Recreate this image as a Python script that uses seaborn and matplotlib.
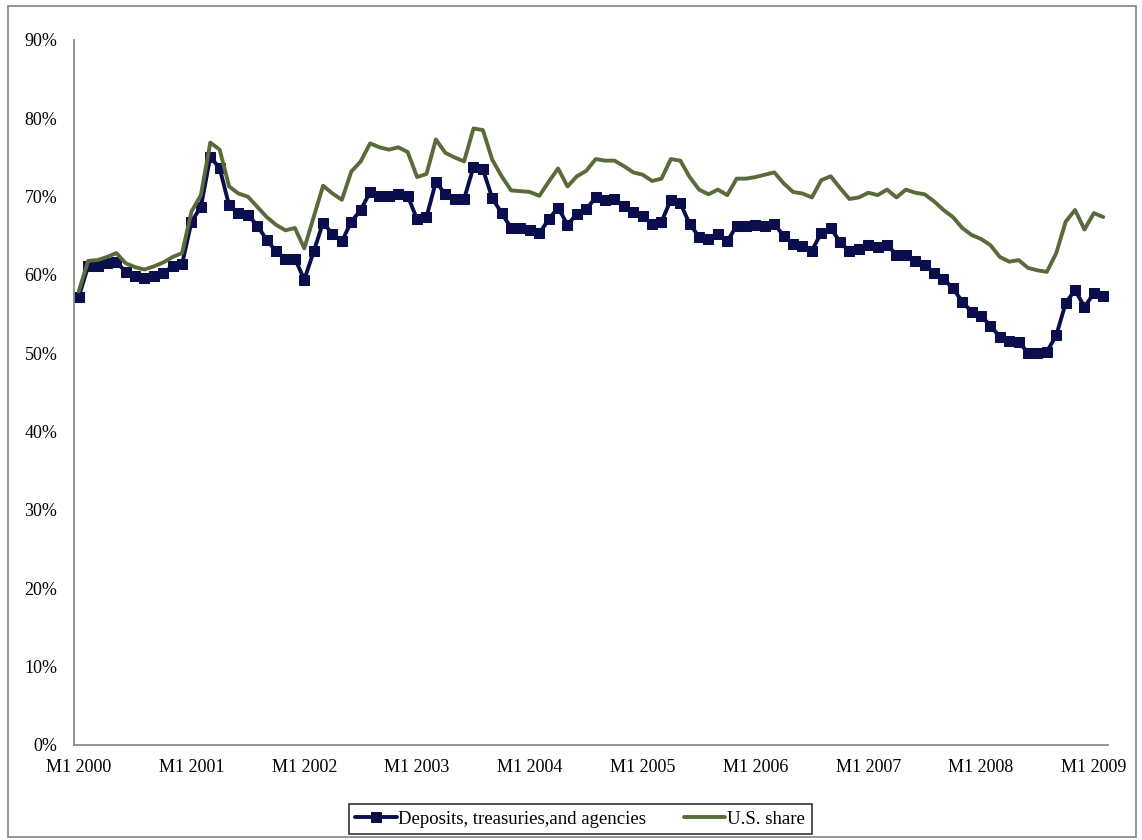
import numpy as np
import pandas as pd
import matplotlib
matplotlib.use("Agg")
import matplotlib.pyplot as plt
import seaborn as sns
from matplotlib.patches import Rectangle
from matplotlib.ticker import FuncFormatter

sns.set_style("white")
plt.rcParams['font.family'] = ['Liberation Serif', 'DejaVu Serif']
plt.rcParams['text.color'] = 'black'
plt.rcParams['xtick.color'] = 'black'
plt.rcParams['ytick.color'] = 'black'

# monthly data, Jan 2000 - Feb 2009 (share, %)
deposits = [
    57.2, 61.1, 61.1, 61.5, 61.7, 60.4, 59.9, 59.6, 59.9, 60.3, 61.1, 61.4,
    66.8, 68.7, 75.1, 73.6, 68.9, 67.9, 67.7, 66.3, 64.5, 63.0, 62.1, 62.1,
    59.4, 63.0, 66.7, 65.2, 64.3, 66.8, 68.3, 70.6, 70.1, 70.1, 70.4, 70.1,
    67.1, 67.4, 71.9, 70.3, 69.7, 69.7, 73.8, 73.5, 69.8, 67.9, 66.0, 66.0,
    65.8, 65.3, 67.1, 68.6, 66.4, 67.8, 68.4, 69.9, 69.6, 69.7, 68.8, 68.0,
    67.5, 66.5, 66.8, 69.6, 69.2, 66.5, 64.9, 64.6, 65.2, 64.3, 66.3, 66.3,
    66.4, 66.2, 66.5, 65.0, 64.0, 63.7, 63.1, 65.4, 66.0, 64.2, 63.0, 63.3,
    63.8, 63.6, 63.8, 62.6, 62.5, 61.8, 61.3, 60.3, 59.5, 58.3, 56.6, 55.3,
    54.8, 53.5, 52.1, 51.6, 51.4, 50.1, 50.0, 50.2, 52.3, 56.4, 58.1, 55.9,
    57.7, 57.3,
]
us_share = [
    57.9, 61.8, 61.9, 62.3, 62.8, 61.5, 61.0, 60.7, 61.1, 61.6, 62.3, 62.8,
    68.1, 70.2, 76.9, 76.0, 71.3, 70.4, 70.0, 68.7, 67.4, 66.4, 65.7, 66.0,
    63.4, 67.4, 71.4, 70.4, 69.6, 73.2, 74.5, 76.8, 76.3, 76.0, 76.3, 75.7,
    72.5, 72.9, 77.3, 75.6, 75.0, 74.5, 78.7, 78.5, 74.7, 72.6, 70.8, 70.7,
    70.6, 70.1, 71.9, 73.6, 71.3, 72.6, 73.3, 74.8, 74.6, 74.6, 73.9, 73.1,
    72.8, 72.0, 72.3, 74.8, 74.6, 72.5, 70.9, 70.3, 70.9, 70.2, 72.3, 72.3,
    72.5, 72.8, 73.1, 71.7, 70.6, 70.4, 69.9, 72.1, 72.6, 71.1, 69.7, 69.9,
    70.5, 70.2, 70.9, 69.9, 70.9, 70.5, 70.3, 69.4, 68.3, 67.4, 66.0, 65.1,
    64.6, 63.8, 62.3, 61.7, 61.9, 60.9, 60.6, 60.4, 62.8, 66.8, 68.3, 65.8,
    67.9, 67.4,
]
years = list(range(2000, 2010))
tick_labels = [f"M1 {y}" for y in years]

n = len(deposits)
df = pd.DataFrame({
    "month": np.arange(n),
    "Deposits, treasuries,and agencies": np.array(deposits) / 100,
    "U.S. share": np.array(us_share) / 100,
})

fig = plt.figure(figsize=(11.42, 8.40), dpi=100)
ax = fig.add_axes([0.0648, 0.1131, 0.9054, 0.8393])

navy = "#0a0e4c"
olive = "#5b6a3b"

sns.lineplot(data=df, x="month", y="Deposits, treasuries,and agencies", ax=ax,
             color=navy, linewidth=2.8, marker="s", markersize=7,
             markeredgecolor=navy, label="Deposits, treasuries,and agencies")
sns.lineplot(data=df, x="month", y="U.S. share", ax=ax,
             color=olive, linewidth=2.8, label="U.S. share")

ax.set_xlim(-0.5, n - 0.5)
ax.set_ylim(0, 0.9)
ax.set_yticks(np.arange(0, 0.91, 0.1))
ax.yaxis.set_major_formatter(FuncFormatter(lambda v, p: f"{v * 100:.0f}%"))
ax.set_xticks(np.arange(0, n, 12))
ax.set_xticklabels(tick_labels)
ax.tick_params(axis="both", length=0, labelsize=13)
ax.tick_params(axis="y", pad=12)
ax.tick_params(axis="x", pad=10)
ax.set_xlabel("")
ax.set_ylabel("")
ax.grid(False)

for side in ["top", "right"]:
    ax.spines[side].set_visible(False)
for side in ["left", "bottom"]:
    ax.spines[side].set_color("#8c8c8c")
    ax.spines[side].set_linewidth(1.3)

ax.get_legend().remove()
handles, labels = ax.get_legend_handles_labels()
leg = fig.legend(handles, labels, loc="center", bbox_to_anchor=(0.508, 0.025),
                 ncol=2, frameon=True, fancybox=False, fontsize=13.5,
                 handlelength=2.2, handletextpad=0.1, columnspacing=2.0,
                 borderpad=0.35)
leg.get_frame().set_edgecolor("black")
leg.get_frame().set_linewidth(1.2)

# outer chart border
fig.patches.append(Rectangle((0.007, 0.003), 0.988, 0.99, transform=fig.transFigure,
                             fill=False, edgecolor="#8c8c8c", linewidth=1.3))

fig.savefig("out.png", dpi=100)
